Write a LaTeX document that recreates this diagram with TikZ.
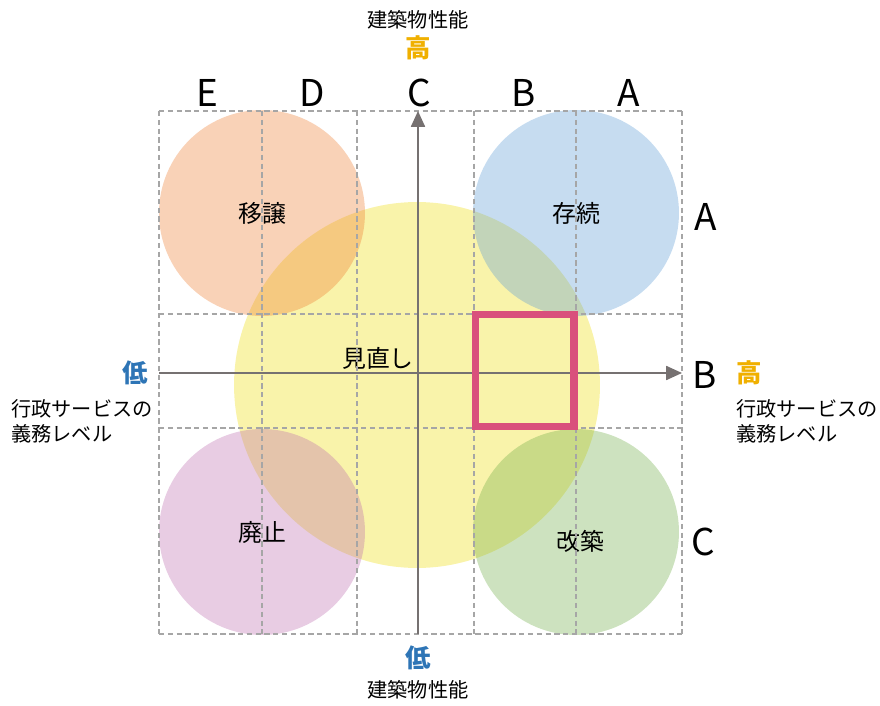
\documentclass[tikz,border=0pt]{standalone}
\usepackage{fontspec}
\setmainfont{Noto Sans CJK JP}
\usetikzlibrary{arrows.meta}
\definecolor{axisgray}{HTML}{767171}
\definecolor{highorange}{HTML}{F0B000}
\definecolor{lowblue}{HTML}{2E75B6}
\definecolor{selred}{HTML}{D9507C}

\begin{document}
\begin{tikzpicture}[x=0.02cm,y=-0.02cm,
  grid/.style={draw=black!35, dash pattern=on 3pt off 2pt, line width=0.6pt},
  area/.style={circle, minimum size=4.12cm, inner sep=0pt, fill opacity=0.35,
          text opacity=1, font=\fontsize{13.6pt}{16pt}\selectfont},
  axis/.style={draw=axisgray, line width=0.9pt, -{Triangle[length=9pt,width=8pt]}},
  rank/.style={font=\fontsize{21pt}{24pt}\selectfont},
  caption/.style={font=\fontsize{11.5pt}{14.2pt}\selectfont, align=left, inner sep=0pt},
  hi/.style={font=\fontsize{14.5pt}{17pt}\selectfont\bfseries, text=highorange},
  lo/.style={font=\fontsize{14.5pt}{17pt}\selectfont\bfseries, text=lowblue}]
\useasboundingbox (0,0) rectangle (880,706);

% areas
\node[area, fill={rgb,255:red,238;green,221;blue,12}, minimum size=7.32cm] (review) at (417,385) {};
\node[area, fill={rgb,255:red,237;green,125;blue,49}] (transfer) at (262,213) {移譲};
\node[area, fill={rgb,255:red,91;green,155;blue,213}] (keep) at (576,213) {存続};
\node[area, fill={rgb,255:red,189;green,109;blue,175}] (abolish) at (262,532) {廃止};
\node[area, fill={rgb,255:red,112;green,173;blue,71}] (rebuild) at (576,532) {};
\node[font=\fontsize{13.6pt}{16pt}\selectfont] (rebuildlbl) at (580,541) {改築};
\node[font=\fontsize{13.6pt}{16pt}\selectfont] (reviewlbl) at (378,358) {見直し};

% grid
\foreach \x in {159,262,357,474,576,682}
  \draw[grid] (\x,111) -- (\x,634);
\foreach \y in {111,314,428,634}
  \draw[grid] (159,\y) -- (682,\y);

% axes
\coordinate (ybot) at (418,634);
\coordinate (ytop) at (418,111);
\coordinate (xleft) at (159,373);
\coordinate (xright) at (682,373);
\draw[axis] (ybot) -- (ytop);
\draw[axis] (xleft) -- (xright);

% selected cell
\node[draw=selred, line width=0.15cm, minimum width=1.97cm, minimum height=2.24cm,
      inner sep=0pt] (sel) at (524.75,370.5) {};

% ranks
\node[rank] (colE) at (207,93) {E};
\node[rank] (colD) at (312,93) {D};
\node[rank] (colC) at (419,93) {C};
\node[rank] (colB) at (524,93) {B};
\node[rank] (colA) at (629,93) {A};
\node[rank] (rowA) at (706,217) {A};
\node[rank] (rowB) at (705,375) {B};
\node[rank] (rowC) at (703,542) {C};

% axis titles
\node[caption] (toptitle) at (418,20) {建築物性能};
\node[hi] (tophi) at (418,48) {高};
\node[lo] (botlo) at (418,658) {低};
\node[caption] (bottitle) at (418,690) {建築物性能};
\node[lo] (leftlo) at (135,373) {低};
\node[caption, anchor=west] (lefttitle) at (11,421) {行政サービスの\\義務レベル};
\node[hi] (righthi) at (749,373) {高};
\node[caption, anchor=west] (righttitle) at (736,421) {行政サービスの\\義務レベル};
\end{tikzpicture}
\end{document}
